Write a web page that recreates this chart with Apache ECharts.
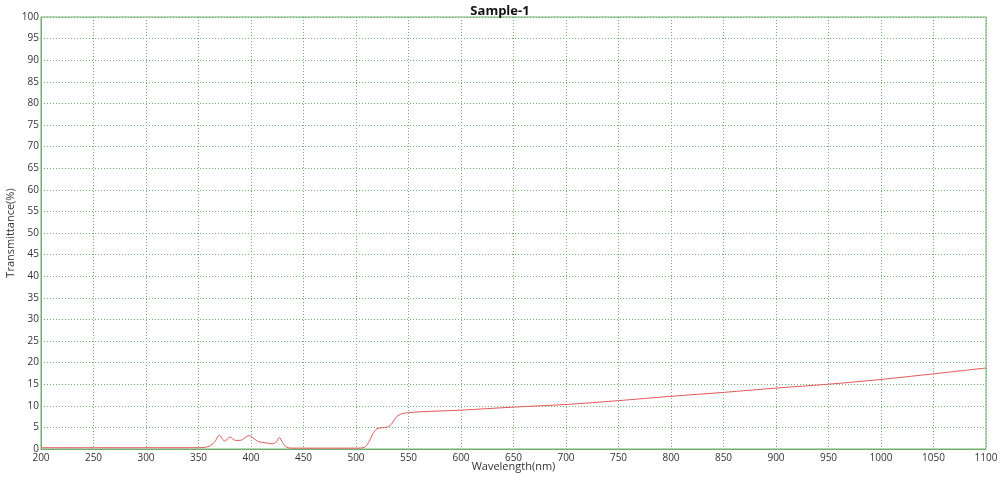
<!DOCTYPE html>
<html>
<head>
<meta charset="utf-8">
<script src="https://cdn.jsdelivr.net/npm/echarts@6/dist/echarts.min.js"></script>
<style>
  html, body { margin: 0; padding: 0; background: #fff; }
  #chart { width: 1000px; height: 477px; }
</style>
</head>
<body>
<div id="chart"></div>
<script>
// wavelength (nm) and transmittance (%)
var wavelengths = [200, 300, 350, 360, 365, 370, 375, 380, 385, 390, 398, 403, 407, 415, 420, 424, 427, 430, 434, 440,
  500, 508, 512, 516, 520, 524, 530, 534, 538, 542, 546, 550, 560, 600, 650, 700, 750, 800, 850, 900, 950, 1000, 1050, 1100];
var transmittance = [0.3, 0.3, 0.3, 0.6, 1.5, 3.2, 1.8, 2.8, 2.0, 2.0, 3.1, 2.4, 1.7, 1.4, 1.2, 1.6, 2.7, 1.5, 0.4, 0.2,
  0.2, 0.4, 1.5, 3.5, 4.7, 4.9, 5.1, 5.8, 7.3, 8.0, 8.3, 8.4, 8.6, 9.0, 9.7, 10.3, 11.2, 12.2, 13.1, 14.1, 15.0, 16.1, 17.4, 18.75];

var chartTitle = 'Sample-1';
var xName = 'Wavelength(nm)';
var yName = 'Transmittance(%)';

var points = [];
for (var i = 0; i < wavelengths.length; i++) {
  points.push([wavelengths[i], transmittance[i]]);
}

var green = '#6fb06f';
var font = 'Open Sans';

var chart = echarts.init(document.getElementById('chart'));

var option = {
  animation: false,
  title: {
    text: chartTitle,
    left: 'center',
    top: 0,
    textStyle: { fontFamily: font, fontSize: 13, fontWeight: 'bold', color: '#111' }
  },
  grid: {
    left: 41,
    right: 14,
    top: 17,
    bottom: 28,
    outerBoundsMode: 'none',
    containLabel: false,
    show: true,
    borderColor: green,
    borderWidth: 1
  },
  xAxis: {
    type: 'value',
    min: 200,
    max: 1100,
    interval: 50,
    name: xName,
    nameLocation: 'middle',
    nameGap: 12,
    nameMoveOverlap: false,
    nameTextStyle: { fontFamily: font, fontSize: 11, color: '#333' },
    axisLine: { lineStyle: { color: green } },
    axisTick: { show: false },
    axisLabel: {
      fontFamily: font, fontSize: 10, color: '#333', margin: 4,
      formatter: function (v) { return String(v); }
    },
    splitLine: { lineStyle: { color: green, type: [1, 2] } }
  },
  yAxis: {
    type: 'value',
    min: 0,
    max: 100,
    interval: 5,
    name: yName,
    nameLocation: 'middle',
    nameGap: 25,
    nameMoveOverlap: false,
    nameTextStyle: { fontFamily: font, fontSize: 11, color: '#333' },
    axisLine: { show: true, lineStyle: { color: green } },
    axisTick: { show: false },
    axisLabel: {
      fontFamily: font, fontSize: 10, color: '#333', margin: 2,
      verticalAlign: 'middle', padding: [0, 0, 6, 0]
    },
    splitLine: { lineStyle: { color: green, type: [1, 2] } }
  },
  series: [{
    type: 'line',
    data: points,
    smooth: 0.3,
    showSymbol: false,
    lineStyle: { color: '#e0585a', width: 1 }
  }]
};

chart.setOption(option);
</script>
</body>
</html>
